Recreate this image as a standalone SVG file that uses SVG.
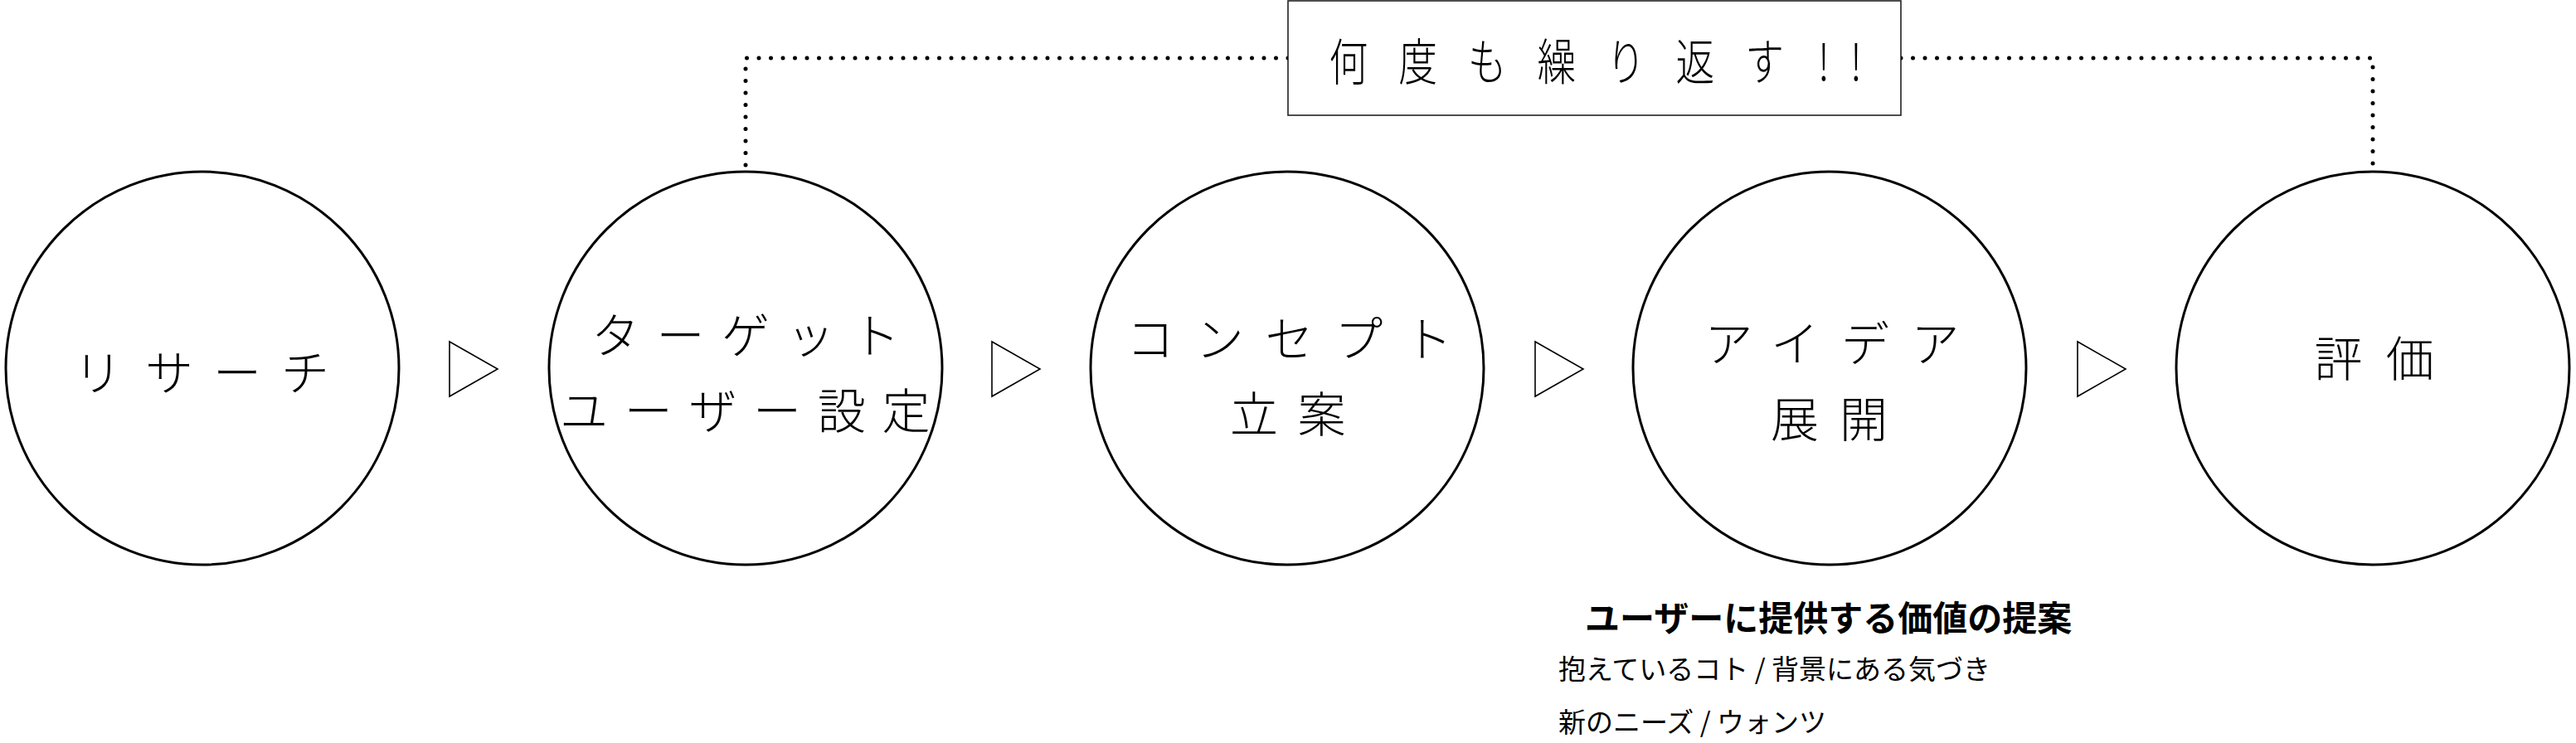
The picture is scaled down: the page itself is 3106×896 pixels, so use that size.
<svg xmlns="http://www.w3.org/2000/svg" width="3106" height="896" viewBox="0 0 3106 896">
<style>
.node{fill:#fff;stroke:#000;stroke-width:3}
.lbl{font-family:"Noto Sans CJK JP","Noto Sans",sans-serif;font-weight:300;font-size:58px;fill:#000;text-anchor:middle;dominant-baseline:central}
.tri{fill:#fff;stroke:#000;stroke-width:1.6;stroke-linejoin:miter}
.dot{fill:none;stroke:#000;stroke-width:5;stroke-linecap:round;stroke-dasharray:0 14.5}
.box{fill:#fff;stroke:#222;stroke-width:1.6}
.note{font-family:"Noto Sans CJK JP","Noto Sans",sans-serif;fill:#000;dominant-baseline:central}
</style>
<rect width="3106" height="896" fill="#fff"/>
<g id="connectors">
  <path class="dot" d="M1553,70 H899 V204"/>
  <path class="dot" d="M2292,70 H2861 V204"/>
  <polygon class="tri" points="542,412 600,445 542,478"/>
  <polygon class="tri" points="1196,412 1254,445 1196,478"/>
  <polygon class="tri" points="1851,412 1909,445 1851,478"/>
  <polygon class="tri" points="2505,412 2563,445 2505,478"/>
</g>
<g id="node-research">
  <circle class="node" cx="244" cy="444" r="237"/>
  <text class="lbl" x="118 204 286 368" y="446">リサーチ</text>
</g>
<g id="node-target">
  <circle class="node" cx="899" cy="444" r="237"/>
  <text class="lbl" x="742 820.5 899 977.5 1056" y="401">ターゲット</text>
  <text class="lbl" x="704 781.7 859.4 937 1014.8 1092.5" y="492">ユーザー設定</text>
</g>
<g id="node-concept">
  <circle class="node" cx="1552" cy="444" r="237"/>
  <text class="lbl" x="1387 1470.75 1554.5 1638.25 1722" y="405">コンセプト</text>
  <text class="lbl" x="1512 1593.6" y="496">立案</text>
</g>
<g id="node-idea">
  <circle class="node" cx="2206" cy="444" r="237"/>
  <text class="lbl" x="2084.5 2164 2249 2333.5" y="411">アイデア</text>
  <text class="lbl" x="2164 2247" y="502">展開</text>
</g>
<g id="node-eval">
  <circle class="node" cx="2861" cy="444" r="237"/>
  <text class="lbl" x="2819.5 2905.8" y="429">評価</text>
</g>
<g id="node-repeat">
  <rect class="box" x="1553" y="1" width="739" height="138"/>
  <text class="lbl" transform="scale(0.78,1)" x="2084.6 2191.8 2299 2406.2 2513.3 2620.5 2727.7 2819.2 2869.2" y="71" style="font-size:60px">何度も繰り返す!!</text>
</g>
<g id="node-note">
  <text class="note" x="1911" y="742" style="font-size:42px;font-weight:700">ユーザーに提供する価値の提案</text>
  <text class="note" x="1879" y="805" style="font-size:33px">抱えているコト / 背景にある気づき</text>
  <text class="note" x="1879" y="869" style="font-size:33px">新のニーズ / ウォンツ</text>
</g>
</svg>
